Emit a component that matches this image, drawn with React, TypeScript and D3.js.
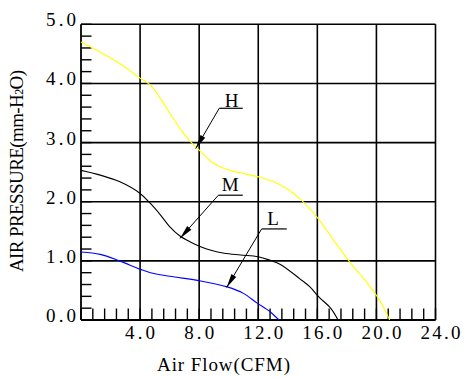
import React from "react";
import * as d3 from "d3";

const W = 467;
const H = 377;

const xTicks = [4, 8, 12, 16, 20, 24];
const yTicks = [0, 1, 2, 3, 4, 5];
const xTickLabels = ["4.0", "8.0", "12.0", "16.0", "20.0", "24.0"];
const yTickLabels = ["0.0", "1.0", "2.0", "3.0", "4.0", "5.0"];

const curveH: [number, number][] = [
  [0, 4.7], [1.3, 4.53], [2.6, 4.34], [4.0, 4.09], [4.7, 3.97], [5.4, 3.74],
  [6.0, 3.5], [6.7, 3.24], [7.4, 3.02], [8.1, 2.85], [8.8, 2.68], [9.7, 2.56],
  [10.8, 2.49], [12.0, 2.42], [13.0, 2.34], [14.0, 2.21], [14.9, 2.03],
  [16.0, 1.73], [17.1, 1.35], [18.2, 0.98], [19.4, 0.62], [20.2, 0.34], [20.9, 0.0],
];
const curveM: [number, number][] = [
  [0, 2.53], [1.3, 2.45], [2.6, 2.34], [4.0, 2.14], [4.7, 1.97], [5.4, 1.77],
  [6.0, 1.58], [6.7, 1.42], [7.4, 1.32], [8.1, 1.24], [8.8, 1.18], [9.7, 1.13],
  [10.8, 1.1], [12.0, 1.07], [12.8, 1.01], [13.5, 0.94], [14.8, 0.7],
  [15.5, 0.56], [16.1, 0.39], [16.9, 0.2], [17.4, 0.0],
];
const curveL: [number, number][] = [
  [0, 1.15], [1.3, 1.11], [2.6, 1.0], [4.0, 0.86], [4.7, 0.8], [6.0, 0.74],
  [8.1, 0.66], [9.9, 0.56], [11.0, 0.45], [11.9, 0.29], [12.8, 0.14], [13.4, 0.0],
];

const seriesNames = ["H", "M", "L"];
const seriesColors = ["#ffff00", "#000000", "#0000ff"];
const seriesData = [curveH, curveM, curveL];

// annotation: [labelX, labelY, underlineX0, underlineX1, underlineY, tipX, tipY] in data units
const annotations: { name: string; lx: number; ly: number; u0: number; u1: number; uy: number; tx: number; ty: number }[] = [
  { name: "H", lx: 10.2, ly: 3.61, u0: 9.36, u1: 10.95, uy: 3.58, tx: 7.77, ty: 2.9 },
  { name: "M", lx: 10.1, ly: 2.18, u0: 9.3, u1: 10.95, uy: 2.11, tx: 6.7, ty: 1.38 },
  { name: "L", lx: 13.0, ly: 1.6, u0: 12.23, u1: 13.93, uy: 1.54, tx: 9.86, ty: 0.55 },
];

const FONT = "'Liberation Serif', 'DejaVu Serif', serif";

export default function App() {
  const x = d3.scaleLinear().domain([0, 24]).range([81, 435.5]);
  const y = d3.scaleLinear().domain([0, 5]).range([320, 24.3]);
  const line = d3
    .line<[number, number]>()
    .x((d) => x(d[0]))
    .y((d) => y(d[1]))
    .curve(d3.curveCatmullRom.alpha(0.5));

  const xMinor = d3.range(0, 24.001, 0.8);
  const yMinor = d3.range(0, 5.001, 0.2);

  return (
    <svg
      width={W}
      height={H}
      style={{ position: "absolute", left: 0, top: 0, background: "#fff" }}
      fontFamily={FONT}
    >
      <rect x={0} y={0} width={W} height={H} fill="#fff" />
      {/* minor ticks */}
      {yMinor.map((v, i) => (
        <line key={"ym" + i} x1={x(0)} x2={x(0) + 10.5} y1={y(v)} y2={y(v)} stroke="#000" strokeWidth={1.4} />
      ))}
      {xMinor.map((v, i) => (
        <line key={"xm" + i} x1={x(v)} x2={x(v)} y1={y(0)} y2={y(0) - 11.5} stroke="#000" strokeWidth={1.4} />
      ))}
      {/* major grid */}
      {xTicks.map((v) => (
        <line key={"xg" + v} x1={x(v)} x2={x(v)} y1={y(0)} y2={y(5)} stroke="#000" strokeWidth={1.6} />
      ))}
      {yTicks.map((v) => (
        <line key={"yg" + v} x1={x(0)} x2={x(24)} y1={y(v)} y2={y(v)} stroke="#000" strokeWidth={1.6} />
      ))}
      <line x1={x(0)} x2={x(0)} y1={y(0)} y2={y(5)} stroke="#000" strokeWidth={1.8} />
      <line x1={x(0)} x2={x(24)} y1={y(0)} y2={y(0)} stroke="#000" strokeWidth={1.8} />

      {/* curves */}
      {seriesData.map((d, i) => (
        <path key={seriesNames[i]} d={line(d) || ""} fill="none" stroke={seriesColors[i]} strokeWidth={1.1} />
      ))}

      {/* annotations */}
      {annotations.map((a) => {
        const sx = x(a.u0);
        const sy = y(a.uy);
        const tx = x(a.tx);
        const ty = y(a.ty);
        const dx = sx - tx;
        const dy = sy - ty;
        const len = Math.hypot(dx, dy);
        const ux = dx / len;
        const uy = dy / len;
        const hl = 14;
        const hw = 2.8;
        const bx = tx + ux * hl;
        const by = ty + uy * hl;
        const pts = [
          [tx, ty],
          [bx - uy * hw, by + ux * hw],
          [bx + uy * hw, by - ux * hw],
        ];
        return (
          <g key={"ann" + a.name}>
            <line x1={x(a.u0)} x2={x(a.u1)} y1={sy} y2={sy} stroke="#000" strokeWidth={1.2} />
            <line x1={sx} y1={sy} x2={tx} y2={ty} stroke="#000" strokeWidth={1} />
            <polygon points={pts.map((p) => p.join(",")).join(" ")} fill="#000" />
            <text x={x(a.lx)} y={y(a.ly)} fontSize={19} textAnchor="middle" fill="#000">
              {a.name}
            </text>
          </g>
        );
      })}

      {/* y tick labels */}
      {yTicks.map((v, i) => (
        <text
          key={"yl" + v}
          x={76}
          y={y(v) + 2}
          fontSize={19}
          textAnchor="end"
          textLength={30}
          lengthAdjust="spacing"
          fill="#000"
        >
          {yTickLabels[i]}
        </text>
      ))}
      {/* x tick labels */}
      {xTicks.map((v, i) => (
        <text
          key={"xl" + v}
          x={x(v) - 15}
          y={338.5}
          fontSize={19}
          textAnchor="start"
          textLength={xTickLabels[i].length === 3 ? 30 : 40}
          lengthAdjust="spacing"
          fill="#000"
        >
          {xTickLabels[i]}
        </text>
      ))}

      {/* axis titles */}
      <text x={157} y={371} fontSize={19} textLength={133} lengthAdjust="spacing" fill="#000">
        Air Flow(CFM)
      </text>
      <text
        transform="translate(23,272) rotate(-90)"
        x={0}
        y={0}
        fontSize={19}
        fill="#000"
        textLength={202}
        lengthAdjust="spacing"
      >
        AIR PRESSURE(mm-H<tspan fontSize={12}>2</tspan>O)
      </text>
    </svg>
  );
}
